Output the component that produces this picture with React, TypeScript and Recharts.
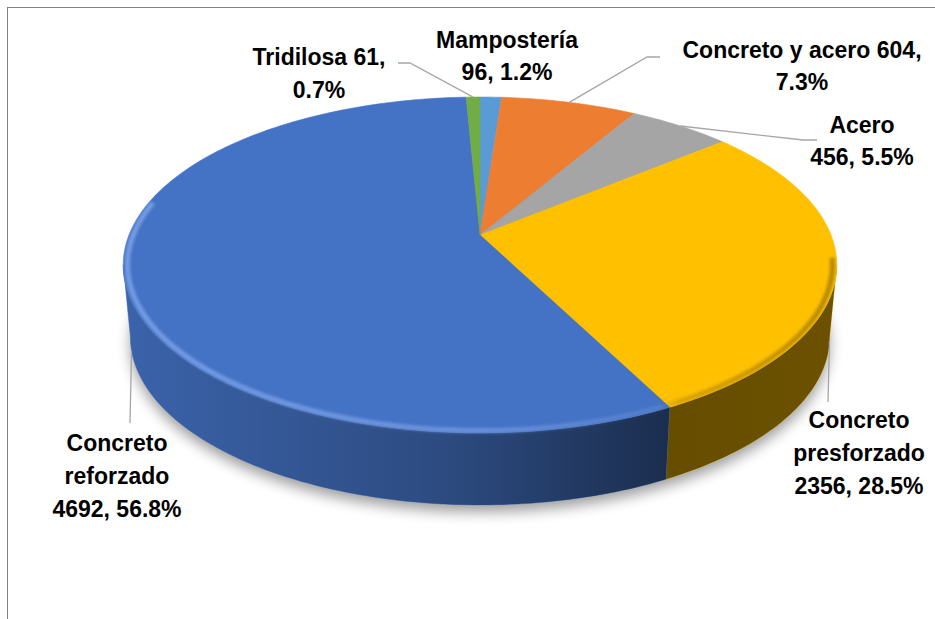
import React from 'react';
import { PieChart, Pie, Cell } from 'recharts';

// Datos del gráfico (sentido horario desde las 12)
const CATEGORIES = ['Mampostería', 'Concreto y acero', 'Acero', 'Concreto presforzado', 'Concreto reforzado', 'Tridilosa'];
const VALUES = [96, 604, 456, 2356, 4692, 61];
const COLORS = ['#5B9BD5', '#ED7D31', '#A5A5A5', '#FFC000', '#4472C4', '#70AD47'];

// how each label wraps (words per line) and where it sits
const LABEL_LAYOUT = [
  { breaks: [1, 2], x: 507, ys: [40, 72], line: null },
  { breaks: [4, 1], x: 802, ys: [50, 82], line: [[647, 57], [660, 57]] },
  { breaks: [1, 2], x: 862, ys: [125, 157], line: [[803, 140], [817, 140]] },
  { breaks: [1, 1, 2], x: 859, ys: [420, 453, 486], line: [[828, 402]] },
  { breaks: [1, 1, 2], x: 117, ys: [443, 476, 509], line: [[130, 423]] },
  { breaks: [2, 1], x: 319, ys: [57, 90], line: [[410, 63], [398, 63]] },
];

const W = 935;
const H = 619;
const CX = 480;
const CY = 235;
const RADIUS = 351;

// fake 3d / perspective params
const P = 0.1786;
const KY = 0.4633;
const DEPTH = 72;
const BOT = 0.98;
const FRONT_A = 100.3;
const FRONT_B = 259.7;

const FONT = "'Liberation Sans', Arial, sans-serif";

const total = VALUES.reduce((s, v) => s + v, 0);
const data = CATEGORIES.map((name, i) => ({ name, value: VALUES[i] }));

function rim(cx: number, cy: number, r: number, phi: number, bottom = false): [number, number] {
  const t = (phi * Math.PI) / 180;
  const u = Math.sin(t);
  const v = -Math.cos(t);
  const w = 1 - P * v;
  let x = cx + (r * u) / w;
  let y = cy + (r * KY * v) / w;
  if (bottom) {
    x = cx + (x - cx) * BOT;
    y += DEPTH;
  }
  return [x, y];
}

function arc(cx: number, cy: number, r: number, a: number, b: number, bottom = false) {
  const n = Math.max(2, Math.ceil(Math.abs(b - a)));
  const pts: [number, number][] = [];
  for (let i = 0; i <= n; i++) pts.push(rim(cx, cy, r, a + ((b - a) * i) / n, bottom));
  return pts;
}

const toPath = (pts: [number, number][]) =>
  pts.map((p, i) => `${i ? 'L' : 'M'}${p[0].toFixed(2)},${p[1].toFixed(2)}`).join(' ');

function Defs({ cx, r }: { cx: number; r: number }) {
  const x1 = cx - r * 1.02;
  const x2 = cx + r * 1.02;
  return (
    <defs>
      <linearGradient id="wallShade" gradientUnits="userSpaceOnUse" x1={x1} x2={x2} y1={0} y2={0}>
        <stop offset="0" stopColor="#000" stopOpacity={0.13} />
        <stop offset="0.46" stopColor="#000" stopOpacity={0.35} />
        <stop offset="0.765" stopColor="#000" stopOpacity={0.6} />
        <stop offset="1" stopColor="#000" stopOpacity={0.58} />
      </linearGradient>
      <linearGradient id="rimGrad" gradientUnits="userSpaceOnUse" x1={x1} x2={x2} y1={0} y2={0}>
        <stop offset="0" stopColor="#9fc0ff" stopOpacity={0.55} />
        <stop offset="0.5" stopColor="#9fc0ff" stopOpacity={0.4} />
        <stop offset="0.75" stopColor="#9fc0ff" stopOpacity={0.15} />
        <stop offset="0.78" stopColor="#000" stopOpacity={0.15} />
        <stop offset="1" stopColor="#000" stopOpacity={0.3} />
      </linearGradient>
      <filter id="shadowBlur" x="-20%" y="-20%" width="140%" height="140%">
        <feGaussianBlur stdDeviation="7" />
      </filter>
      <filter id="rimBlur" x="-5%" y="-5%" width="110%" height="110%">
        <feGaussianBlur stdDeviation="1.6" />
      </filter>
    </defs>
  );
}

function Slice3D(props: any) {
  const { cx, cy, outerRadius, startAngle, endAngle, fill, payload } = props;
  let p1 = 90 - startAngle;
  let p2 = 90 - endAngle;
  if (p1 > p2) [p1, p2] = [p2, p1];
  const r = outerRadius;
  const isFirst = payload && payload.name === CATEGORIES[0];

  const top = `M${cx},${cy} ` + toPath(arc(cx, cy, r, p1, p2)).replace('M', 'L') + ' Z';

  const a = Math.max(p1, FRONT_A);
  const b = Math.min(p2, FRONT_B);
  let wall: string | null = null;
  if (a < b) {
    const pts = [...arc(cx, cy, r, a, b), ...arc(cx, cy, r, b, a, true)];
    wall = toPath(pts) + ' Z';
  }

  // bevel highlight along the front rim
  const ha = Math.max(p1, 98);
  const hb = Math.min(p2, 282);
  const hl = ha < hb ? toPath(arc(cx, cy, r * 0.988, ha, hb)) : null;

  return (
    <g>
      {isFirst && (
        <>
          <Defs cx={cx} r={r} />
          <path
            d={toPath(arc(cx, cy, r, 0, 360, true).map(([x, y]) => [x, y + 7] as [number, number])) + ' Z'}
            fill="#000"
            opacity={0.38}
            filter="url(#shadowBlur)"
          />
        </>
      )}
      {wall && (
        <>
          <path d={wall} fill={fill} stroke={fill} strokeWidth={0.5} />
          <path d={wall} fill="url(#wallShade)" />
        </>
      )}
      <path d={top} fill={fill} stroke={fill} strokeWidth={0.6} />
      {hl && <path d={hl} fill="none" stroke="url(#rimGrad)" strokeWidth={5} filter="url(#rimBlur)" />}
    </g>
  );
}

function renderLabel(props: any) {
  const { cx, cy, midAngle, outerRadius, name, value } = props;
  let i = typeof props.index === 'number' ? props.index : CATEGORIES.indexOf(name);
  if (i < 0) i = CATEGORIES.indexOf(props.payload?.name);
  const lay = LABEL_LAYOUT[i];
  const pct = ((value / total) * 100).toFixed(1);
  const words = `${CATEGORIES[i]} ${VALUES[i]}, ${pct}%`.split(' ');
  const lines: string[] = [];
  let k = 0;
  lay.breaks.forEach((n, j) => {
    // last line takes whatever is left
    const take = j === lay.breaks.length - 1 ? words.length - k : n;
    lines.push(words.slice(k, k + take).join(' '));
    k += take;
  });

  const phi = 90 - midAngle;
  const front = phi > FRONT_A && phi < FRONT_B;
  const anchor = rim(cx, cy, outerRadius, phi, front);

  return (
    <g key={`lbl-${i}`}>
      {lay.line && (
        <polyline
          points={[anchor, ...lay.line].map((p) => `${p[0]},${p[1]}`).join(' ')}
          fill="none"
          stroke="#A6A6A6"
          strokeWidth={1.3}
        />
      )}
      {lines.map((t, j) => (
        <text
          key={j}
          x={lay.x}
          y={lay.ys[j]}
          textAnchor="middle"
          dominantBaseline="central"
          fontFamily={FONT}
          fontWeight="bold"
          fontSize={23}
          fill="#000"
        >
          {t}
        </text>
      ))}
    </g>
  );
}

export default function App() {
  return (
    <div style={{ position: 'absolute', left: 0, top: 0, width: W, height: H, background: '#fff' }}>
      {/* chart area frame (only top/left edges visible) */}
      <div
        style={{
          position: 'absolute',
          left: 7,
          top: 7,
          width: W - 7,
          height: H - 7,
          borderTop: '1px solid #808080',
          borderLeft: '1px solid #808080',
        }}
      />
      <div style={{ position: 'absolute', left: 0, top: 0 }}>
        <PieChart width={W} height={H} margin={{ top: 0, right: 0, bottom: 0, left: 0 }}>
          <Pie
            data={data}
            dataKey="value"
            nameKey="name"
            cx={CX}
            cy={CY}
            outerRadius={RADIUS}
            startAngle={90}
            endAngle={-270}
            stroke="none"
            labelLine={false}
            label={renderLabel}
            shape={Slice3D}
            activeShape={Slice3D}
            inactiveShape={Slice3D}
            isAnimationActive={false}
          >
            {data.map((d, i) => (
              <Cell key={d.name} fill={COLORS[i]} />
            ))}
          </Pie>
        </PieChart>
      </div>
    </div>
  );
}
